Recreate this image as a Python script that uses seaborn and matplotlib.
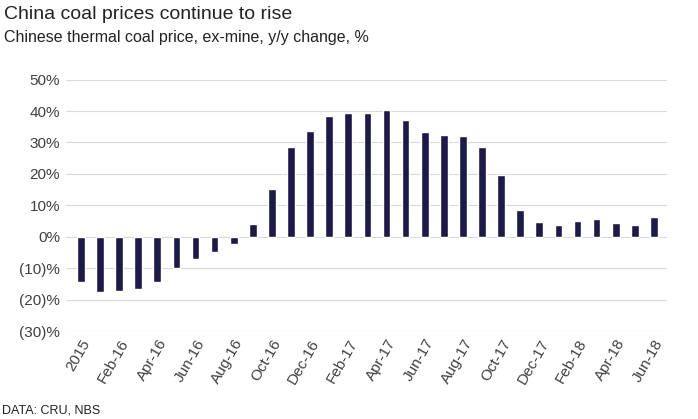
import matplotlib
matplotlib.use("Agg")
import matplotlib.pyplot as plt
import seaborn as sns
import pandas as pd
from matplotlib.ticker import FuncFormatter

categories = ["2015"] + [f"{m}-{y}" for y in ["16", "17"] for m in
              ["Jan","Feb","Mar","Apr","May","Jun","Jul","Aug","Sep","Oct","Nov","Dec"]] + \
             [f"{m}-18" for m in ["Jan","Feb","Mar","Apr","May","Jun"]]
values = [-14.5, -17.5, -17.3, -16.5, -14.3, -10, -7, -5, -2.2, 4, 15.3, 28.5, 33.8, 38.3,
          39.5, 39.4, 40.3, 37, 33.2, 32.3, 32.2, 28.5, 19.7, 8.5, 4.8, 3.8, 5, 5.8, 4.3, 3.8, 6.2]

df = pd.DataFrame({"month": categories, "change": values})

sns.set_style("white")
plt.rcParams["font.family"] = ["Liberation Sans", "DejaVu Sans"]
fig = plt.figure(figsize=(6.98, 4.19), dpi=100)
ax = fig.add_axes([0.094, 0.21, 0.862, 0.6])
sns.barplot(data=df, x="month", y="change", color="#1e1a48", width=0.4, ax=ax, saturation=1)
ax.set_ylim(-30, 50)
ax.set_yticks(range(-30, 51, 10))
ax.yaxis.set_major_formatter(FuncFormatter(lambda v, p: f"({abs(int(v))})%" if v < 0 else f"{int(v)}%"))
ax.set_xticks(range(0, len(categories), 2))
ax.set_xticklabels(categories[::2], rotation=60, ha="right", rotation_mode="anchor")
ax.grid(axis="y", color="#d9d9d9", linewidth=0.8)
ax.set_axisbelow(True)
for s in ax.spines.values():
    s.set_visible(False)
ax.tick_params(axis="both", length=0, labelsize=11, colors="#404040", pad=4)
ax.set_xlabel(""); ax.set_ylabel("")
ax.set_xlim(-0.8, len(categories) - 0.3)
fig.text(0.006, 0.955, "China coal prices continue to rise", fontsize=14, color="#222222")
fig.text(0.006, 0.9, "Chinese thermal coal price, ex-mine, y/y change, %", fontsize=11.5, color="#222222")
fig.text(0.003, 0.012, "DATA: CRU, NBS", fontsize=9, color="#222222")
fig.savefig("out.png", dpi=100)
